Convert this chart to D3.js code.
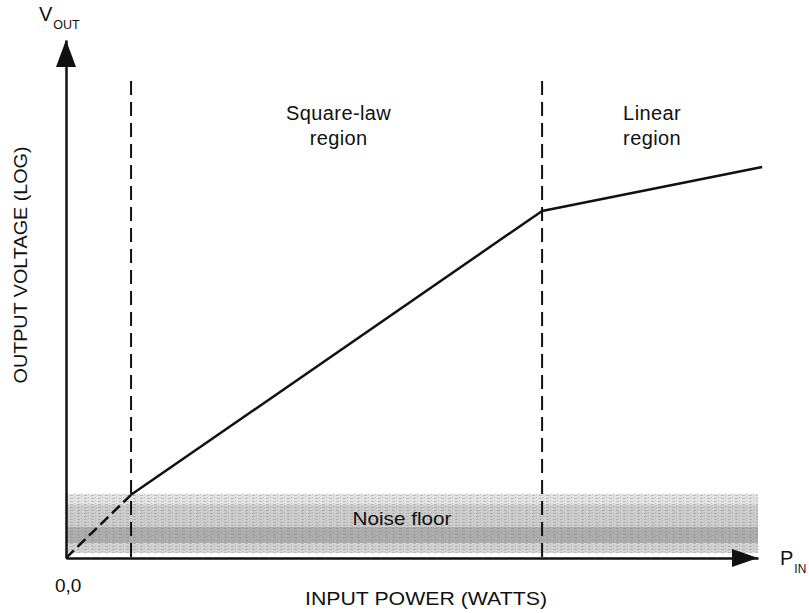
<!DOCTYPE html>
<html>
<head>
<meta charset="utf-8">
<script src="https://cdn.jsdelivr.net/npm/d3@7"></script>
<style>
  html, body { margin: 0; padding: 0; background: #fff; }
  svg { display: block; }
  text { font-family: "Liberation Sans", Arial, Helvetica, sans-serif; fill: #111; }
</style>
</head>
<body>
<svg id="chart" width="809" height="613"></svg>
<script>
// ---- data (chart units: 0..100 on both axes) ----
const curveX = [9.4, 68.8, 100.6];        // square-law start, knee, end of linear region
const curveY = [12.2, 67.0, 75.5];
const belowNoiseX = [0, 9.4];             // dashed extrapolation inside noise floor
const belowNoiseY = [0, 12.2];
const boundaryX = [9.4, 68.8];            // dashed region boundaries
const boundaryTop = 92.1;
const noiseFloorTop = 12.4;
const noiseFloorBottom = 1.0;
const regionNames = [["Square-law", "region"], ["Linear", "region"]];
const regionCenters = [39.4, 84.7];
const axisTitles = ["INPUT POWER (WATTS)", "OUTPUT VOLTAGE (LOG)"];
const originLabel = "0,0";

// ---- layout ----
const svg = d3.select("#chart");
const x = d3.scaleLinear().domain([0, 100]).range([66, 758]);
const y = d3.scaleLinear().domain([0, 100]).range([558, 40]);

// noise floor band with streaky texture
const defs = svg.append("defs");
const pat = defs.append("pattern").attr("id", "grain")
  .attr("patternUnits", "userSpaceOnUse").attr("width", 7).attr("height", 3);
pat.append("rect").attr("x", 0).attr("y", 0).attr("width", 3).attr("height", 1).attr("fill", "#7a7a7a");
pat.append("rect").attr("x", 4).attr("y", 2).attr("width", 1).attr("height", 1).attr("fill", "#8a8a8a");

const bandTop = y(noiseFloorTop), bandBot = y(noiseFloorBottom);
const bandH = bandBot - bandTop;
const streaks = [
  [0.00, 0.18, "#e4e4e4"],
  [0.18, 0.56, "#cdcdcd"],
  [0.56, 0.84, "#adadad"],
  [0.84, 1.00, "#d2d2d2"]
];
svg.append("g").selectAll("rect").data(streaks).join("rect")
  .attr("x", x(0)).attr("width", x(100) - x(0))
  .attr("y", d => bandTop + d[0] * bandH)
  .attr("height", d => (d[1] - d[0]) * bandH)
  .attr("fill", d => d[2]);
svg.append("rect").attr("x", x(0)).attr("width", x(100) - x(0))
  .attr("y", bandTop).attr("height", bandH).attr("fill", "url(#grain)").attr("opacity", 0.4);

svg.append("text").attr("x", 402).attr("y", 525).attr("text-anchor", "middle")
  .attr("font-size", 19).attr("textLength", 99).attr("lengthAdjust", "spacingAndGlyphs")
  .text("Noise floor");

// region boundaries
svg.append("g").selectAll("line").data(boundaryX).join("line")
  .attr("x1", d => x(d)).attr("x2", d => x(d))
  .attr("y1", y(boundaryTop)).attr("y2", y(0))
  .attr("stroke", "#111").attr("stroke-width", 2)
  .attr("stroke-dasharray", "14,7");

// extrapolated dashed line in noise
const line = d3.line().x(d => x(d[0])).y(d => y(d[1]));
svg.append("path").datum(d3.zip(belowNoiseX, belowNoiseY))
  .attr("d", line).attr("fill", "none").attr("stroke", "#111")
  .attr("stroke-width", 2.5).attr("stroke-dasharray", "11,5");

// response curve
svg.append("path").datum(d3.zip(curveX, curveY))
  .attr("d", line).attr("fill", "none").attr("stroke", "#111")
  .attr("stroke-width", 2.5).attr("stroke-linejoin", "round");

// axes
const xAxis = svg.append("g").attr("transform", `translate(0,${y(0)})`)
  .call(d3.axisBottom(x).tickValues([]).tickSizeOuter(0));
const yAxis = svg.append("g").attr("transform", `translate(${x(0)},0)`)
  .call(d3.axisLeft(y).tickValues([]).tickSizeOuter(0));
[xAxis, yAxis].forEach(g => g.select(".domain").attr("stroke", "#111").attr("stroke-width", 2.5));

// arrowheads
svg.append("path")
  .attr("d", `M${x(100)},${y(0)} L${x(100) - 26},${y(0) - 9} L${x(100) - 26},${y(0) + 9} Z`)
  .attr("fill", "#111");
svg.append("path")
  .attr("d", `M${x(0)},${y(100)} L${x(0) - 10},${y(100) + 27} L${x(0) + 10},${y(100) + 27} Z`)
  .attr("fill", "#111");

// axis variable labels
const vout = svg.append("text").attr("x", 39).attr("y", 21).attr("font-size", 20);
vout.append("tspan").text("V");
vout.append("tspan").attr("font-size", 12.5).attr("dy", 8).attr("dx", 1).text("OUT");
const pin = svg.append("text").attr("x", 780).attr("y", 565).attr("font-size", 20);
pin.append("tspan").text("P");
pin.append("tspan").attr("font-size", 12).attr("dy", 8).attr("dx", 1).text("IN");

svg.append("text").attr("x", 55).attr("y", 592).attr("font-size", 19).text(originLabel);

svg.append("text").attr("x", 426).attr("y", 605).attr("text-anchor", "middle")
  .attr("font-size", 19).attr("textLength", 242).attr("lengthAdjust", "spacingAndGlyphs")
  .text(axisTitles[0]);
svg.append("text").attr("transform", "translate(27,265) rotate(-90)")
  .attr("text-anchor", "middle").attr("font-size", 19)
  .attr("textLength", 237).attr("lengthAdjust", "spacingAndGlyphs")
  .text(axisTitles[1]);

// region labels
const rl = svg.append("g").selectAll("text").data(regionNames).join("text")
  .attr("text-anchor", "middle").attr("font-size", 20).attr("letter-spacing", 0.4);
rl.append("tspan").attr("x", (d, i) => x(regionCenters[i])).attr("y", 120).text(d => d[0]);
rl.append("tspan").attr("x", (d, i) => x(regionCenters[i])).attr("y", 145).text(d => d[1]);
</script>
</body>
</html>
